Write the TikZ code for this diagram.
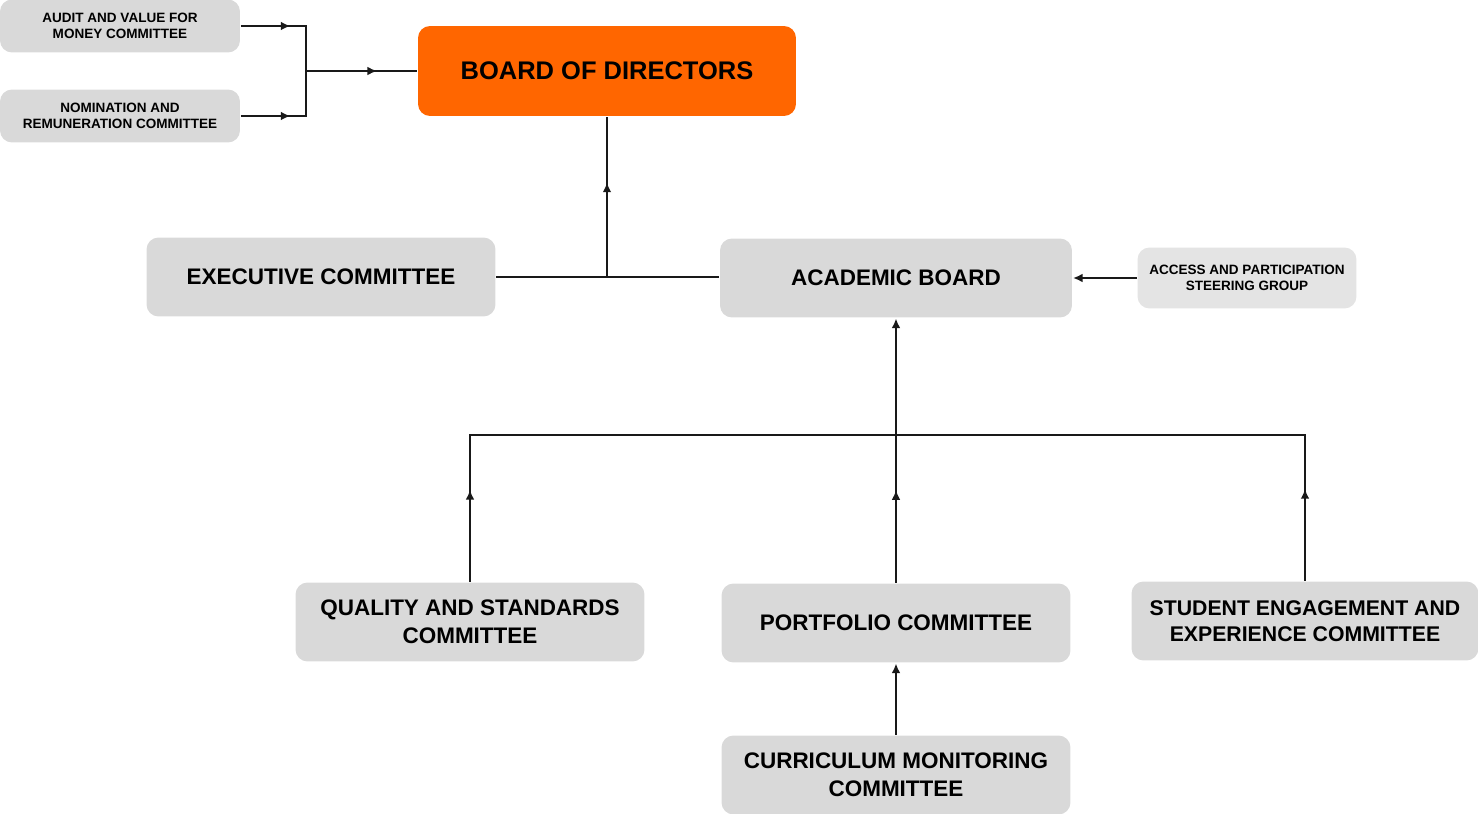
\documentclass[tikz,border=0pt]{standalone}
\usepackage{fontspec}
\setmainfont{Liberation Sans}
\usepackage{xcolor}
\usetikzlibrary{arrows.meta,decorations.markings}

\definecolor{boardorange}{HTML}{FF6600}
\definecolor{boxgrey}{HTML}{D9D9D9}
\definecolor{lightgrey}{HTML}{E4E4E4}

\begin{document}
\begin{tikzpicture}[x=0.02cm, y=-0.02cm, line width=1.1pt,
      every node/.append style={font=\bfseries, align=center, rounded corners=0.24cm},
      line/.style={draw=black!90},
      tip/.style={-{Latex[length=5.5pt,width=5pt]}},
      midarr/.style={postaction=decorate, decoration={markings,
          mark=at position #1 with {\arrow{Latex[length=5.5pt,width=5pt]}}}}]
    \tikzstyle{bigbox} = [fill=boxgrey, minimum width=6.98cm, minimum height=1.58cm, font=\bfseries\fontsize{12.8}{15.9}\selectfont]
    \tikzstyle{smallbox} = [fill=boxgrey, minimum width=4.8cm, minimum height=1.06cm, font=\bfseries\fontsize{7.7}{9}\selectfont]
    \useasboundingbox (0,0) rectangle (1478,814);

    % top: board and its two committees
    \node (audit) [smallbox] at (120,26) {AUDIT AND VALUE FOR\\MONEY COMMITTEE};
    \node (nomin) [smallbox] at (120,116) {NOMINATION AND\\REMUNERATION COMMITTEE};
    \node (board) [fill=boardorange, minimum width=7.56cm, minimum height=1.8cm,
          font=\bfseries\fontsize{14.5}{17}\selectfont] at (607,71) {BOARD OF DIRECTORS};

    % middle row
    \node (exec) [bigbox] at (321,277) {EXECUTIVE COMMITTEE};
    \node (acad) [bigbox, minimum width=7.04cm] at (896,278) {ACADEMIC BOARD};
    \node (access) [smallbox, fill=lightgrey, minimum width=4.38cm, minimum height=1.22cm] at (1247,278)
          {ACCESS AND PARTICIPATION\\STEERING GROUP};

    % committees under the academic board
    \node (quality) [bigbox] at (470,622) {QUALITY AND STANDARDS\\COMMITTEE};
    \node (portf) [bigbox] at (896,623) {PORTFOLIO COMMITTEE};
    \node (student) [bigbox, minimum width=6.94cm, font=\bfseries\fontsize{12.1}{14.6}\selectfont]
          at (1305,621) {STUDENT ENGAGEMENT AND\\EXPERIENCE COMMITTEE};
    \node (curric) [bigbox] at (896,775) {CURRICULUM MONITORING\\COMMITTEE};

    \coordinate (join) at (306,71);
    \coordinate (bus) at (896,435);

    \draw[line, midarr=0.45] (audit) -| (join);
    \draw[line, midarr=0.45] (nomin) -| (join);
    \draw[line, midarr=0.64] (join) -- (board);

    \draw[line] (exec) -- (exec -| acad.west);
    \draw[line, midarr=0.59] (board |- exec) -- (board);
    \draw[line, tip] (access) -- (acad);

    \draw[line, midarr=0.16] (quality) |- (bus);
    \draw[line, midarr=0.165] (student) |- (bus);
    \draw[line, tip, midarr=0.35] (portf) -- (acad);
    \draw[line, tip] (curric) -- (portf);
\end{tikzpicture}
\end{document}
